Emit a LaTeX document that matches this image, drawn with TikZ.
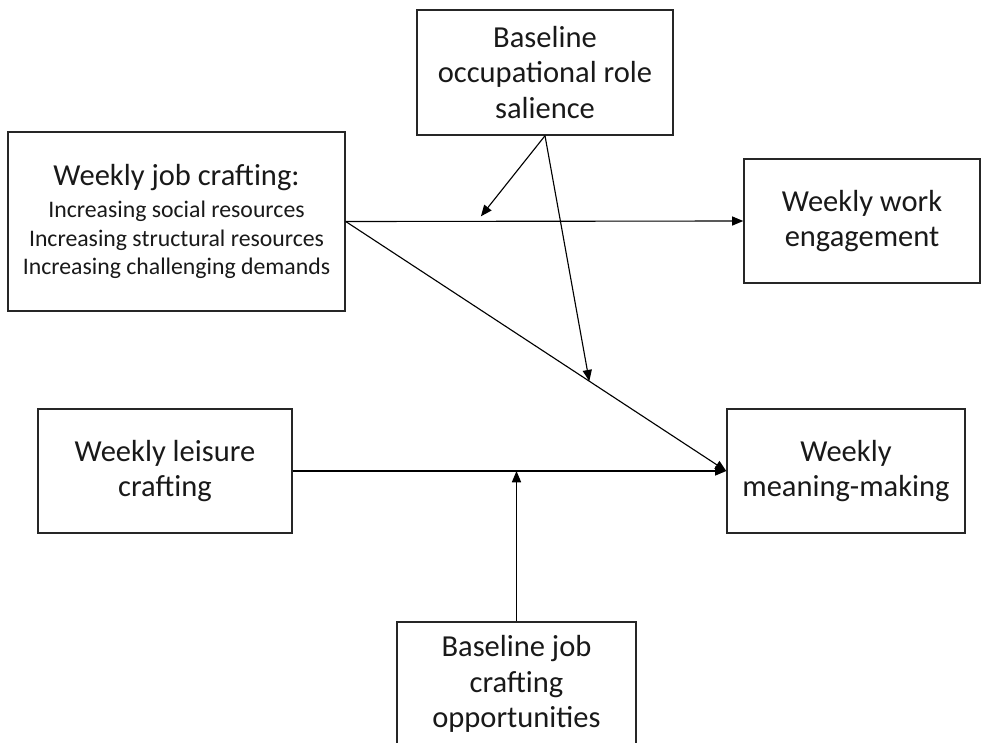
\documentclass[tikz,border=0pt]{standalone}
\usepackage{fontspec}
\setmainfont{Carlito}
\usetikzlibrary{arrows.meta,calc}

\begin{document}
\begin{tikzpicture}[x=0.025cm,y=-0.025cm,>={Triangle[length=8pt,width=6.5pt]},
  box/.style={draw=black!85,line width=1pt,align=center,inner sep=0pt,
    text=black!90,font=\fontsize{21.7}{25.5}\selectfont}]
\useasboundingbox (0,0) rectangle (982,743);
\node[box,minimum width=8.425cm,minimum height=4.475cm,font=\fontsize{16.9}{20}\selectfont] (jc) at (176.5,221.5)
  {{\fontsize{21.7}{24}\selectfont Weekly job crafting:}\\[2.7pt]
   Increasing social resources\\ Increasing structural resources\\ Increasing challenging demands};
\node[box,minimum width=6.4cm,minimum height=3.125cm] (sal) at (545,72.5) {Baseline\\ occupational role\\ salience};
\node[box,minimum width=5.9cm,minimum height=3.1cm] (we) at (862,221) {Weekly work\\ engagement};
\node[box,minimum width=6.35cm,minimum height=3.1cm] (le) at (165,471) {Weekly leisure\\ crafting};
\node[box,minimum width=5.95cm,minimum height=3.1cm] (mm) at (846,471) {Weekly\\ meaning-making};
\node[box,minimum width=5.975cm,minimum height=3.1cm] (opp) at (516.5,684) {Baseline job\\ crafting\\ opportunities};
% points where the moderators meet the paths
\coordinate (m1) at ($(jc.east)!0.34!(we.west)+(0,-5)$);
\coordinate (m2) at ($(jc.east)!0.64!(mm.west)$);
\coordinate (m3) at (opp.north |- le.east);
\path[->,line width=0.8pt]
(jc.east)
edge [] (we.west)
edge [] (mm.west)
(le.east)
edge [] (mm.west)
(sal.south)
edge [] (m1)
edge [] (m2)
(opp.north)
edge [] (m3)
;
\end{tikzpicture}
\end{document}
